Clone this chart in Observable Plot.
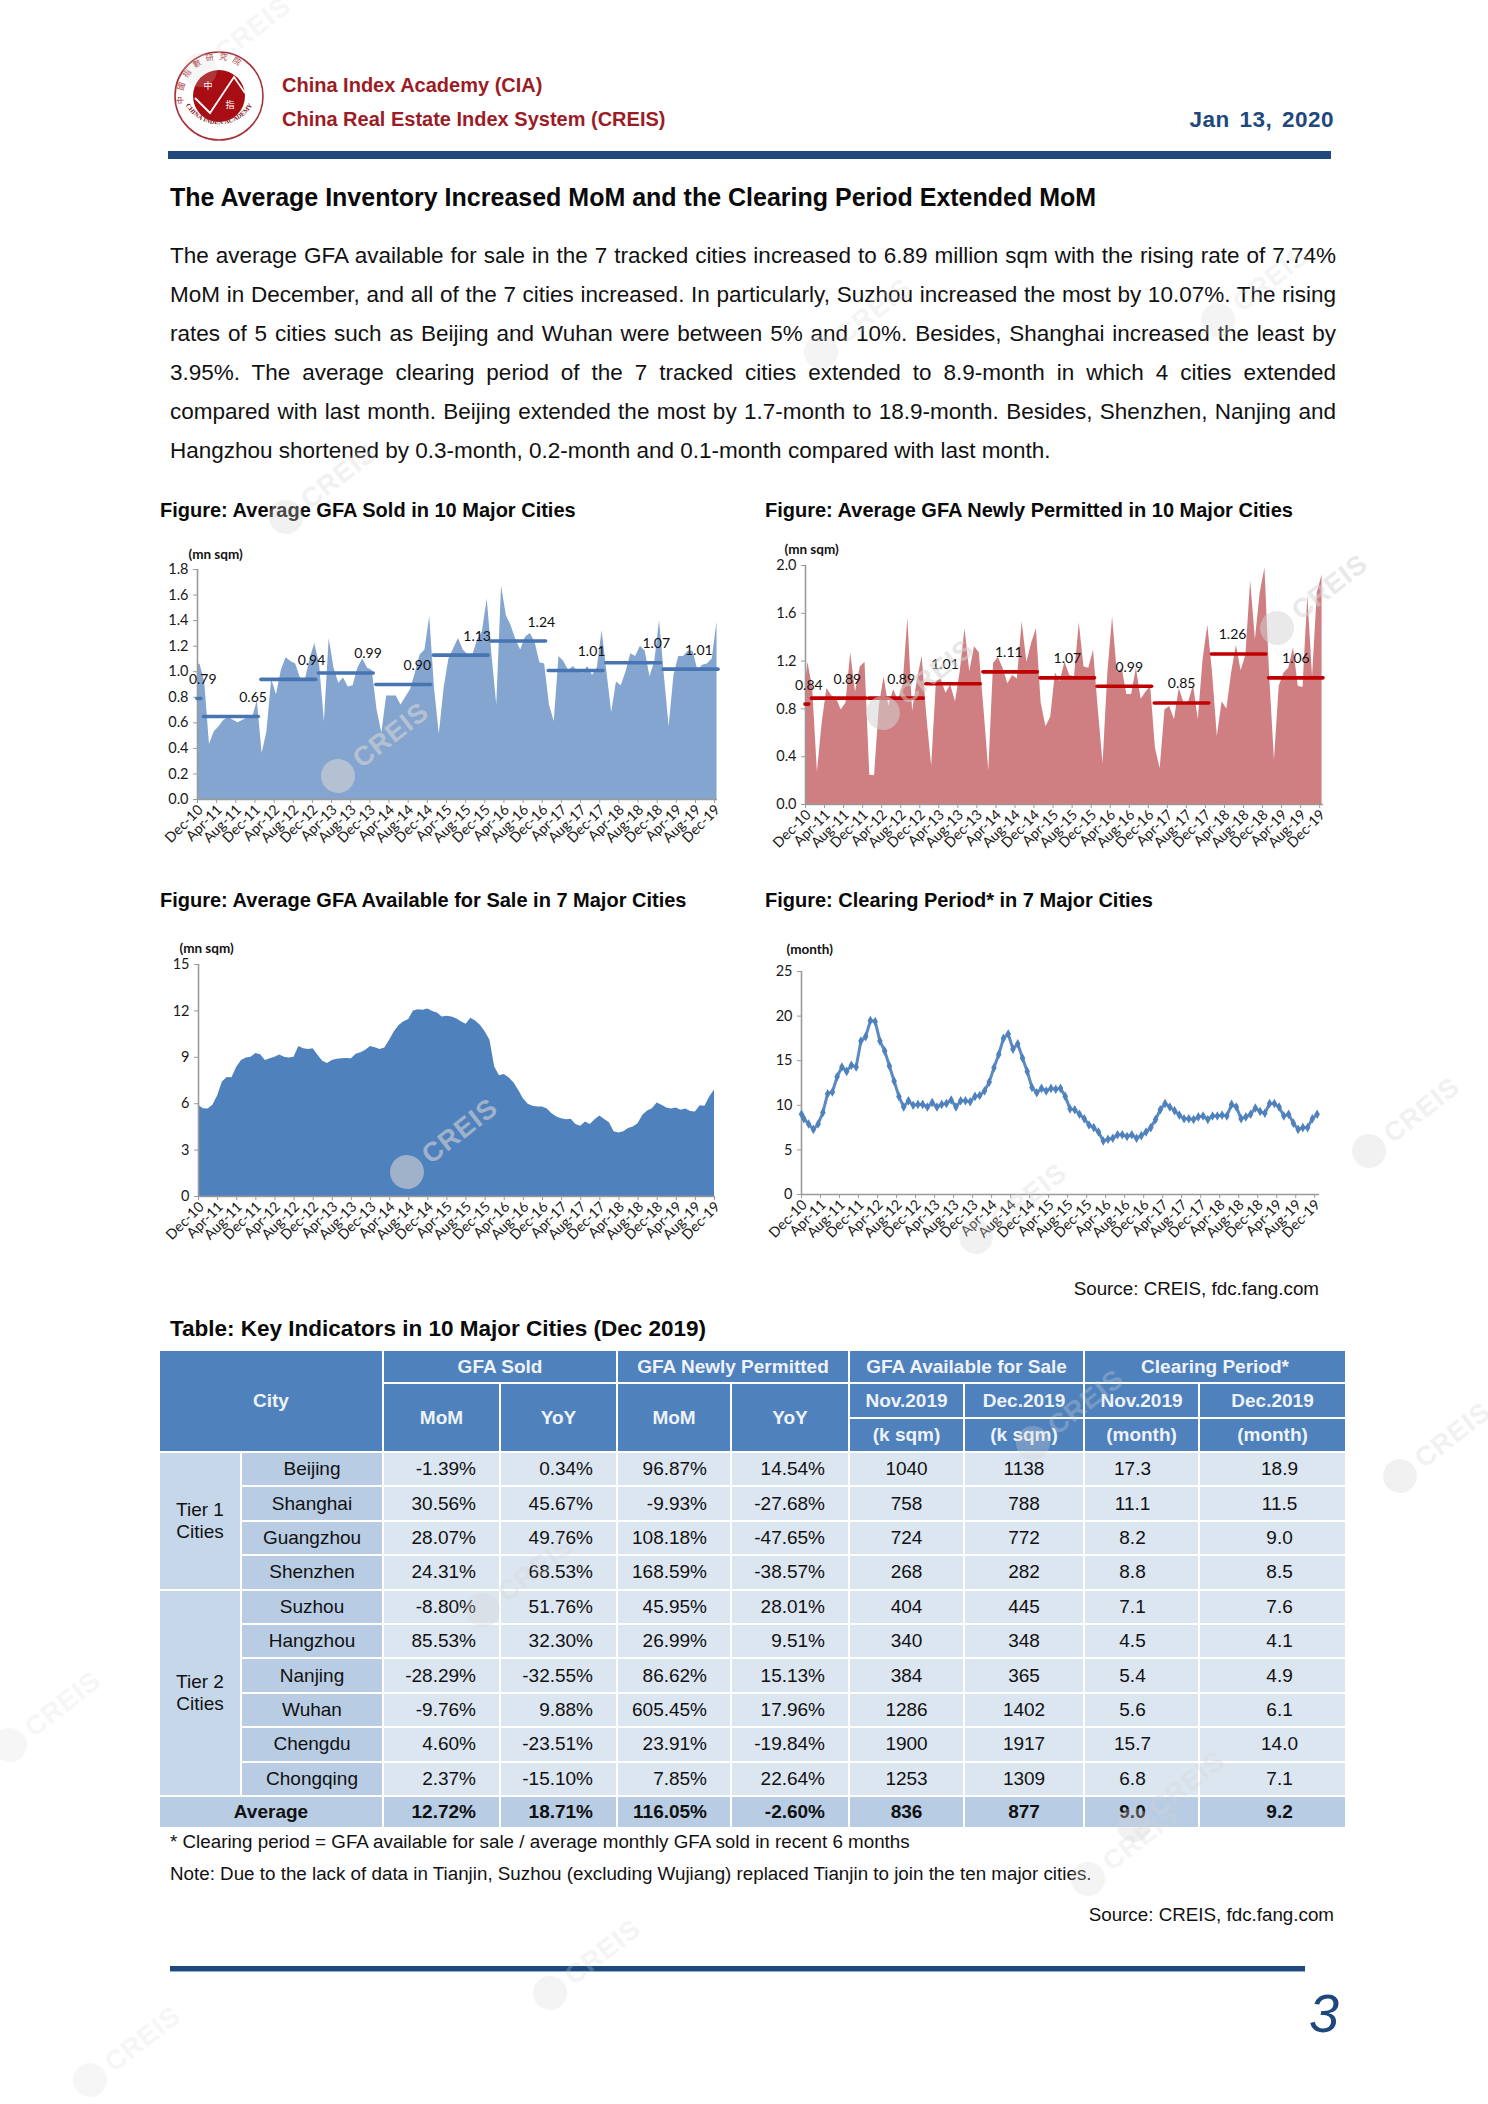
<!DOCTYPE html>
<html><head><meta charset="utf-8">
<script src="https://cdn.jsdelivr.net/npm/d3@7"></script>
<script src="https://cdn.jsdelivr.net/npm/@observablehq/plot@0.6"></script>
<style>
html,body{margin:0;padding:0;background:#fff}
#page{position:relative;width:1488px;height:2104px;overflow:hidden;font-family:"Liberation Sans",Arial,sans-serif;color:#111}
.t{position:absolute;white-space:nowrap;line-height:1}
.c{position:absolute}
.c svg{overflow:visible;background:transparent;display:block}
.body{position:absolute;left:170px;width:1166px;font-size:22.5px;line-height:1;text-align:justify;text-align-last:justify;color:#111}
table{position:absolute;left:158px;top:1349px;border-collapse:collapse;table-layout:fixed;font-size:19px}
td{border:2px solid #fff;padding:0;text-align:center;background:#dce6f1;color:#111;overflow:hidden;white-space:nowrap}
td.h{background:#4f81bd;color:#eef3fa;font-weight:bold}
td.s{background:#b8cce4}
td.l{background:#c6d7ea}
td.r{text-align:right;padding-right:23px}
td.n{padding-right:18px}
td.m{padding-left:14px}
tr.avg td{background:#b8cce4;font-weight:bold}
</style></head><body><div id="page"></div>
<script>
const tickLabels=["Dec-10","Apr-11","Aug-11","Dec-11","Apr-12","Aug-12","Dec-12","Apr-13","Aug-13","Dec-13","Apr-14","Aug-14","Dec-14","Apr-15","Aug-15","Dec-15","Apr-16","Aug-16","Dec-16","Apr-17","Aug-17","Dec-17","Apr-18","Aug-18","Dec-18","Apr-19","Aug-19","Dec-19"];

const soldEdge=1.05;
const soldValues=[1.06,0.92,0.43,0.53,0.57,0.62,0.64,0.62,0.60,0.62,0.64,0.64,0.77,0.36,0.53,0.94,0.82,1.01,1.11,1.08,1.06,0.95,0.93,1.10,1.22,1.05,0.61,1.26,1.03,0.91,0.95,0.88,0.89,1.03,1.10,1.03,1.01,0.70,0.52,0.81,0.81,0.81,0.74,0.80,0.86,0.99,1.13,1.17,1.43,0.87,0.51,0.87,1.10,1.18,1.26,1.17,1.13,1.13,1.25,1.31,1.57,1.13,0.74,1.67,1.44,1.36,1.25,1.17,1.27,1.30,1.23,1.07,1.06,0.74,0.61,1.12,1.08,1.01,1.04,1.00,0.99,1.04,0.97,1.03,1.32,1.00,0.68,0.92,0.89,1.00,1.14,1.12,1.20,1.16,0.96,1.08,1.40,0.97,0.57,0.97,1.12,1.12,1.16,1.16,1.01,1.05,1.06,1.10,1.39];
const soldAverages=[0.79,0.65,0.94,0.99,0.90,1.13,1.24,1.01,1.07,1.01];
const soldAverageLevels=[0.79,0.65,0.94,0.99,0.90,1.13,1.24,1.01,1.07,1.02];
const soldLabelMonths=[1.1,11.6,23.8,35.6,45.9,58.4,71.8,82.3,95.8,104.7];

const permittedEdge=1.0;
const permittedValues=[1.19,0.98,0.27,0.68,0.97,0.91,0.89,0.79,0.85,1.27,0.94,1.15,1.19,0.245,0.24,0.82,1.07,0.82,0.96,0.87,1.0,1.56,0.78,1.04,1.24,0.73,0.32,1.03,1.05,0.93,1.0,0.86,1.11,1.47,1.11,1.32,1.27,0.79,0.28,1.18,1.23,1.14,1.01,1.08,1.05,1.53,1.19,1.35,1.47,0.85,0.65,0.73,1.10,1.03,1.19,1.08,1.07,1.52,1.15,1.14,1.29,0.79,0.34,1.1,1.57,1.10,1.14,0.92,0.92,1.14,0.88,0.94,0.99,0.47,0.30,0.79,0.82,0.71,0.97,0.85,0.86,1.0,0.71,1.21,1.50,1.10,0.57,0.86,0.80,1.10,1.33,1.12,1.25,1.87,1.38,1.77,1.98,1.07,0.37,0.99,1.10,1.14,1.31,0.99,0.98,1.75,1.07,1.77,1.92];
const permittedAverages=[0.84,0.89,0.89,1.01,1.11,1.07,0.99,0.85,1.26,1.06];
const permittedAverageLevels=[0.84,0.89,0.89,1.01,1.11,1.06,0.99,0.85,1.26,1.06];
const permittedLabelMonths=[0.7,8.8,20.1,29.3,42.7,55,68,79,89.7,103];

const availableValues=[5.9,5.68,5.65,5.9,6.5,7.4,7.7,7.68,8.35,8.8,8.95,9.0,9.25,9.17,8.8,8.9,9.0,9.15,9.0,8.95,9.0,9.7,9.55,9.5,9.55,9.13,8.75,8.6,8.8,8.87,8.9,8.93,8.9,9.2,9.3,9.45,9.7,9.62,9.5,9.6,10.1,10.65,11.05,11.3,11.45,12.0,12.08,12.04,12.13,11.96,11.87,11.6,11.65,11.6,11.5,11.3,11.13,11.52,11.35,11.07,10.65,10.1,8.37,7.8,7.88,7.68,7.35,6.87,6.32,5.96,5.83,5.78,5.78,5.65,5.35,5.14,5.03,4.96,5.0,4.66,4.55,4.81,4.66,4.96,5.2,4.98,4.77,4.19,4.1,4.19,4.4,4.49,4.7,5.25,5.53,5.68,6.04,5.9,5.72,5.65,5.72,5.57,5.65,5.5,5.46,5.87,5.83,6.43,6.89];

const clearingEdge=9.0;
const clearingValues=[8.5,7.9,7.3,7.9,9.2,11.3,11.5,13.2,14.3,13.8,14.5,14.3,17.2,17.7,19.5,19.4,17.2,16.1,14.4,12.7,11.0,9.8,10.5,10.0,10.1,10.1,9.8,10.3,9.8,10.1,10.2,10.6,9.8,10.5,10.5,10.4,11.0,11.1,11.6,12.6,14.2,15.7,17.5,18.0,16.3,16.9,15.3,13.8,12.0,11.4,11.9,11.6,11.9,11.8,11.9,11.0,9.6,9.5,9.0,8.5,7.8,7.5,7.0,6.0,6.2,6.3,6.7,6.7,6.5,6.7,6.3,6.6,7.0,7.5,8.4,9.5,10.2,9.8,9.4,8.9,8.5,8.5,8.4,8.7,8.8,8.4,8.8,8.8,8.9,8.8,10.1,9.8,8.5,8.7,9.0,9.7,9.3,9.1,10.2,10.2,9.8,8.8,9.0,8.0,7.3,7.5,7.5,8.5,9.0];

const bodyLines=["The average GFA available for sale in the 7 tracked cities increased to 6.89 million sqm with the rising rate of 7.74%","MoM in December, and all of the 7 cities increased. In particularly, Suzhou increased the most by 10.07%. The rising","rates of 5 cities such as Beijing and Wuhan were between 5% and 10%. Besides, Shanghai increased the least by","3.95%. The average clearing period of the 7 tracked cities extended to 8.9-month in which 4 cities extended","compared with last month. Beijing extended the most by 1.7-month to 18.9-month. Besides, Shenzhen, Nanjing and","Hangzhou shortened by 0.3-month, 0.2-month and 0.1-month compared with last month."];

const cities=["Beijing","Shanghai","Guangzhou","Shenzhen","Suzhou","Hangzhou","Nanjing","Wuhan","Chengdu","Chongqing"];
const soldMoM=["-1.39%","30.56%","28.07%","24.31%","-8.80%","85.53%","-28.29%","-9.76%","4.60%","2.37%"];
const soldYoY=["0.34%","45.67%","49.76%","68.53%","51.76%","32.30%","-32.55%","9.88%","-23.51%","-15.10%"];
const permitMoM=["96.87%","-9.93%","108.18%","168.59%","45.95%","26.99%","86.62%","605.45%","23.91%","7.85%"];
const permitYoY=["14.54%","-27.68%","-47.65%","-38.57%","28.01%","9.51%","15.13%","17.96%","-19.84%","22.64%"];
const availNov=["1040","758","724","268","404","340","384","1286","1900","1253"];
const availDec=["1138","788","772","282","445","348","365","1402","1917","1309"];
const clearNov=["17.3","11.1","8.2","8.8","7.1","4.5","5.4","5.6","15.7","6.8"];
const clearDec=["18.9","11.5","9.0","8.5","7.6","4.1","4.9","6.1","14.0","7.1"];
const averageRow=["12.72%","18.71%","116.05%","-2.60%","836","877","9.0","9.2"];

const page=document.getElementById("page");
function txt(s,o){const d=document.createElement("div");d.className="t";d.textContent=s;Object.assign(d.style,o);page.appendChild(d);return d;}
function box(o){const d=document.createElement("div");d.style.position="absolute";Object.assign(d.style,o);page.appendChild(d);return d;}

/* header */
const logo=document.createElement("div");logo.className="c";logo.style.left="170px";logo.style.top="46px";
logo.innerHTML=`<svg width="98" height="100" viewBox="-49 -50 98 100">
<defs><path id="arcTop" d="M-35 8A36 36 0 1 1 35 8"/><path id="arcBot" d="M-38 -2A39 39 0 0 0 38 -2"/></defs>
<circle r="44" fill="#fff" stroke="#a8323a" stroke-width="1.6"/>
<circle r="26" fill="#a80d14"/>
<path d="M-24 2 L-9 17 L15 -19 L26 -3" fill="none" stroke="#fff" stroke-width="1.8"/>
<text x="-11" y="-7" font-size="9" fill="#fff" font-family="Noto Sans CJK TC" text-anchor="middle">中</text>
<text x="11" y="12" font-size="9" fill="#fff" font-family="Noto Sans CJK TC" text-anchor="middle">指</text>
<text font-size="8" fill="#a8323a" font-family="Noto Sans CJK TC" letter-spacing="5"><textPath href="#arcTop">中國指數研究院</textPath></text>
<text font-size="6.6" fill="#8a2228" font-family="Liberation Serif" font-weight="bold"><textPath href="#arcBot" startOffset="50%" text-anchor="middle">CHINA INDEX ACADEMY</textPath></text>
</svg>`;
page.appendChild(logo);
txt("China Index Academy (CIA)",{left:"282px",top:"75px",fontSize:"20px",fontWeight:"bold",color:"#9c1c26"});
txt("China Real Estate Index System (CREIS)",{left:"282px",top:"109px",fontSize:"20px",fontWeight:"bold",color:"#9c1c26"});
txt("Jan 13, 2020",{right:"154px",top:"109px",fontSize:"22.5px",fontWeight:"bold",color:"#1f497d",wordSpacing:"3px",letterSpacing:"0.5px"});
box({left:"168px",top:"151px",width:"1163px",height:"8px",background:"#1f497d"});
txt("The Average Inventory Increased MoM and the Clearing Period Extended MoM",{left:"170px",top:"185px",fontSize:"25px",fontWeight:"bold",color:"#0a0a0a"});
bodyLines.forEach((l,i)=>{const d=document.createElement("div");d.className="body";d.textContent=l;d.style.top=(245+39*i)+"px";if(i==bodyLines.length-1)d.style.textAlignLast="left";page.appendChild(d);});

const titleStyle={fontSize:"20px",fontWeight:"bold",color:"#0a0a0a"};
txt("Figure: Average GFA Sold in 10 Major Cities",{left:"160px",top:"500px",...titleStyle});
txt("Figure: Average GFA Newly Permitted in 10 Major Cities",{left:"765px",top:"500px",...titleStyle});
txt("Figure: Average GFA Available for Sale in 7 Major Cities",{left:"160px",top:"890px",...titleStyle});
txt("Figure: Clearing Period* in 7 Major Cities",{left:"765px",top:"890px",...titleStyle});

/* charts */
const chartFont="Lato, Carlito, sans-serif";
function base(o){
  const left=o.x0-50, top=o.y1-30, right=o.x1+30, bottom=o.y0+80;
  return {left,top,opts:{width:right-left,height:bottom-top,marginLeft:50,marginRight:30,marginTop:30,marginBottom:80,
    style:{fontFamily:chartFont,fontSize:"13px",background:"transparent",overflow:"visible"},
    x:{domain:[0,o.xMax],axis:null},y:{domain:o.yDomain,axis:null}}};
}
function axes(o,unit,unitDx,unitDy){
  const monthTicks=d3.range(0,109,4);
  return [
    Plot.ruleY([0],{stroke:"#9a9a9a",strokeWidth:1.6}),
    Plot.ruleX([0],{stroke:"#9a9a9a",strokeWidth:1.6}),
    Plot.axisX({ticks:monthTicks,tickFormat:()=>"",tickSize:4,stroke:"#9a9a9a",label:null,anchor:"bottom"}),
    Plot.axisX({ticks:monthTicks,tickFormat:d=>tickLabels[d/4],tickRotate:-45,tickSize:0,tickPadding:8,dx:3,stroke:"none",fill:"#1a1a1a",fontSize:14.2,label:null,anchor:"bottom"}),
    Plot.axisY({ticks:o.yTicks,tickFormat:o.yFmt,tickSize:4,tickPadding:5,stroke:"#9a9a9a",fill:"#1a1a1a",fontSize:14.5,label:null,anchor:"left"}),
    Plot.text([unit],{frameAnchor:"top-left",text:d=>d,dx:unitDx,dy:unitDy,fontWeight:"bold",fontSize:13.5,fill:"#111",textAnchor:"start"})
  ];
}
function place(o,marks){
  const b=base(o);
  const p=Plot.plot({...b.opts,marks});
  const d=document.createElement("div");d.className="c";d.style.left=b.left+"px";d.style.top=b.top+"px";d.appendChild(p);page.appendChild(d);
}
function edgeSeries(edge,vals){return [{m:0,v:edge},...vals.map((v,i)=>({m:i+0.5,v}))];}
function segs(levels,labels){return levels.map((y,k)=>({y,label:labels[k].toFixed(2),m1:k?12*(k-1)+1.36:0,m2:k?12*k+0.8:0.8}));}

function areaChart(o,edge,vals,levels,labels,labelMonths,fill,lineCol,unit,ux,uy){
  const data=edgeSeries(edge,vals), s=segs(levels,labels).map((d,k)=>({...d,lm:labelMonths[k]}));
  place(o,[
    Plot.areaY(data,{x:"m",y:"v",fill,curve:"linear"}),
    ...axes(o,unit,ux,uy),
    Plot.ruleY(s,{y:"y",x1:"m1",x2:"m2",stroke:lineCol,strokeWidth:3.6,strokeLinecap:"round"}),
    Plot.text(s,{x:"lm",y:"y",text:"label",dy:-19,fontSize:14,fill:"#111"})
  ]);
}
areaChart({x0:197,x1:717,y0:799,y1:569,xMax:108.6,yDomain:[0,1.8],yTicks:d3.range(0,1.81,0.2),yFmt:d3.format(".1f")},soldEdge,soldValues,soldAverageLevels,soldAverages,soldLabelMonths,"#84a5cf","#4675b1","(mn sqm)",-9,-20);
areaChart({x0:805,x1:1323,y0:804,y1:565,xMax:108.8,yDomain:[0,2.0],yTicks:d3.range(0,2.01,0.4),yFmt:d3.format(".1f")},permittedEdge,permittedValues,permittedAverageLevels,permittedAverages,permittedLabelMonths,"#cf7f81","#c00000","(mn sqm)",-21,-21);

const o3={x0:198,x1:714,y0:1196,y1:964,xMax:108,yDomain:[0,15],yTicks:[0,3,6,9,12,15],yFmt:d=>d};
place(o3,[Plot.areaY(availableValues.map((v,i)=>({m:i,v})),{x:"m",y:"v",fill:"#4f81bd"}),...axes(o3,"(mn sqm)",-19,-21)]);

const o4={x0:801,x1:1319,y0:1194,y1:971,xMax:109,yDomain:[0,25],yTicks:[0,5,10,15,20,25],yFmt:d=>d};
const clearing=edgeSeries(clearingEdge,clearingValues);
place(o4,[...axes(o4,"(month)",-15,-27),
  Plot.line(clearing,{x:"m",y:"v",stroke:"#5b8ac3",strokeWidth:3}),
  Plot.dot(clearing,{x:"m",y:"v",symbol:"diamond",r:2.9,fill:"#4f81bd",stroke:"none"})
]);

txt("Source: CREIS, fdc.fang.com",{right:"169px",top:"1280px",fontSize:"18.8px"});
txt("Table: Key Indicators in 10 Major Cities (Dec 2019)",{left:"170px",top:"1318px",fontSize:"22.5px",fontWeight:"bold",color:"#0a0a0a"});

/* table */
const widths=[82,142,117,117,114,118,115,120,115,147];
let html='<colgroup>'+widths.map(w=>`<col style="width:${w}px">`).join('')+'</colgroup>';
html+=`<tr style="height:33px"><td class="h" colspan="2" rowspan="3">City</td><td class="h" colspan="2">GFA Sold</td><td class="h" colspan="2">GFA Newly Permitted</td><td class="h" colspan="2">GFA Available for Sale</td><td class="h" colspan="2">Clearing Period*</td></tr>`;
html+=`<tr style="height:35px"><td class="h" rowspan="2">MoM</td><td class="h" rowspan="2">YoY</td><td class="h" rowspan="2">MoM</td><td class="h" rowspan="2">YoY</td><td class="h">Nov.2019</td><td class="h">Dec.2019</td><td class="h">Nov.2019</td><td class="h">Dec.2019</td></tr>`;
html+=`<tr style="height:34px"><td class="h">(k sqm)</td><td class="h">(k sqm)</td><td class="h">(month)</td><td class="h">(month)</td></tr>`;
cities.forEach((c,i)=>{
  let tier="";
  if(i==0)tier='<td class="l" rowspan="4">Tier 1<br>Cities</td>';
  if(i==4)tier='<td class="l" rowspan="6">Tier 2<br>Cities</td>';
  html+=`<tr style="height:34.4px">${tier}<td class="s">${c}</td><td class="r">${soldMoM[i]}</td><td class="r">${soldYoY[i]}</td><td class="r">${permitMoM[i]}</td><td class="r">${permitYoY[i]}</td><td>${availNov[i]}</td><td>${availDec[i]}</td><td class="n">${clearNov[i]}</td><td class="m">${clearDec[i]}</td></tr>`;
});
html+=`<tr class="avg" style="height:32px"><td colspan="2">Average</td>`+averageRow.map((v,i)=>`<td class="${i<4?'r':i==6?'n':i==7?'m':''}">${v}</td>`).join('')+`</tr>`;
const tb=document.createElement("table");tb.style.width=widths.reduce((a,b)=>a+b,0)+"px";tb.innerHTML=html;page.appendChild(tb);

txt("* Clearing period = GFA available for sale / average monthly GFA sold in recent 6 months",{left:"170px",top:"1833px",fontSize:"18.8px"});
txt("Note: Due to the lack of data in Tianjin, Suzhou (excluding Wujiang) replaced Tianjin to join the ten major cities.",{left:"170px",top:"1865px",fontSize:"18.8px"});
txt("Source: CREIS, fdc.fang.com",{right:"154px",top:"1906px",fontSize:"18.8px"});
box({left:"170px",top:"1966px",width:"1135px",height:"5px",background:"#1f497d",borderBottom:"1px solid #8fb4dc"});
txt("3",{left:"1309px",top:"1986px",fontSize:"54px",color:"#1f497d",fontStyle:"italic"});

/* watermarks: [x, y, strength] */
const marks=[[338,776,.6],[407,1172,.6],[883,713,.55],[1277,628,.5],[976,1237,.3],[200,70,.2],[286,517,.3],[821,352,.25],[1218,320,.25],[1369,1151,.3],[1400,1476,.3],[10,1745,.2],[1088,1879,.25],[550,1993,.25],[90,2080,.2],[1033,1443,.3],[483,1610,.3],[1134,1825,.3]];
const wm=document.createElement("div");wm.className="c";wm.style.left="0";wm.style.top="0";
wm.innerHTML=`<svg width="1488" height="2104" style="pointer-events:none">`+marks.map(([x,y,s])=>`<g transform="translate(${x},${y}) rotate(-38)" fill="#d4d4d4" opacity="${s}"><circle r="17"/><text x="23" y="9" font-family="Liberation Sans" font-weight="bold" font-size="27" letter-spacing="1">CREIS</text></g>`).join('')+`</svg>`;
page.appendChild(wm);
</script></body></html>
